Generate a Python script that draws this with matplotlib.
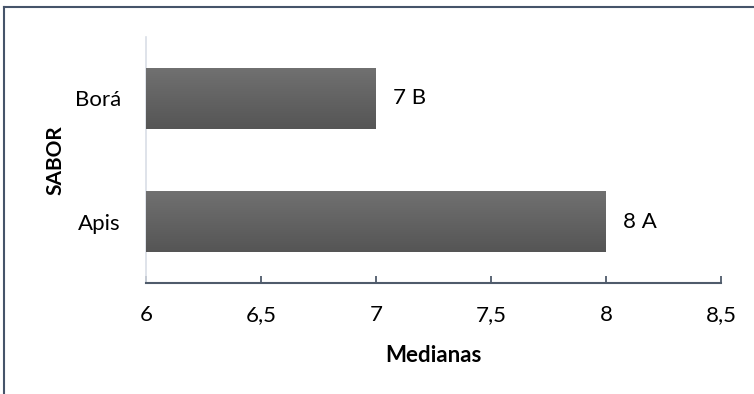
import matplotlib
matplotlib.use("Agg")
import matplotlib.pyplot as plt
import numpy as np
from matplotlib.lines import Line2D
from matplotlib.colors import LinearSegmentedColormap

categories = ["Apis", "Borá"]
values = [8, 7]
labels = ["8 A", "7 B"]
xticks = [6, 6.5, 7, 7.5, 8, 8.5]
xticklabels = ["6", "6,5", "7", "7,5", "8", "8,5"]

plt.rcParams['font.family'] = ['Lato', 'DejaVu Sans']
FS = 16

fig = plt.figure(figsize=(7.54, 3.94), dpi=100)
ax = fig.add_axes([146/754, 1-283/394, (721-146)/754, (283-37)/394])

ypos = np.arange(len(categories))
bars = ax.barh(ypos, [v - 6 for v in values], left=6, height=0.5, color="#626262", zorder=2)

grad = np.linspace(0, 1, 256).reshape(-1, 1)
cmap = LinearSegmentedColormap.from_list("g", ["#717171", "#555555"])
for b in bars:
    x0, y0 = b.get_x(), b.get_y()
    w, h = b.get_width(), b.get_height()
    im = ax.imshow(grad, extent=[x0, x0 + w, y0, y0 + h], origin="upper",
                   cmap=cmap, aspect="auto", zorder=3)
    im.set_clip_path(b)

for y, v, lab in zip(ypos, values, labels):
    ax.annotate(lab, (v, y), xytext=(12, 0), textcoords="offset points",
                va="center", ha="left", fontsize=FS, color="black")

ax.set_xlim(6, 8.5)
ax.set_ylim(-0.5, 1.5)
ax.set_xticks(xticks)
ax.set_xticklabels(xticklabels, fontsize=FS)
ax.set_yticks(ypos)
ax.set_yticklabels(categories, fontsize=FS)
ax.tick_params(axis="x", direction="in", length=5, width=1.3, color="#4F5B6B", pad=16)
ax.tick_params(axis="y", length=0, pad=18)

for s in ["top", "right"]:
    ax.spines[s].set_visible(False)
ax.spines["bottom"].set_color("#4F5B6B")
ax.spines["bottom"].set_linewidth(1.5)
ax.spines["left"].set_color("#D9DEE6")
ax.spines["left"].set_linewidth(1.2)

ax.set_xlabel("Medianas", fontsize=FS, fontweight="bold", labelpad=14)
ax.set_ylabel("SABOR", fontsize=15, fontweight="bold", labelpad=7)

# figure border (top and left visible)
fig.add_artist(Line2D([4/754, 4/754], [0, 1-7/394], transform=fig.transFigure,
                      color="#46546A", linewidth=1.5))
fig.add_artist(Line2D([4/754, 1], [1-7/394, 1-7/394], transform=fig.transFigure,
                      color="#46546A", linewidth=1.5))

fig.savefig("out.png", dpi=100)
